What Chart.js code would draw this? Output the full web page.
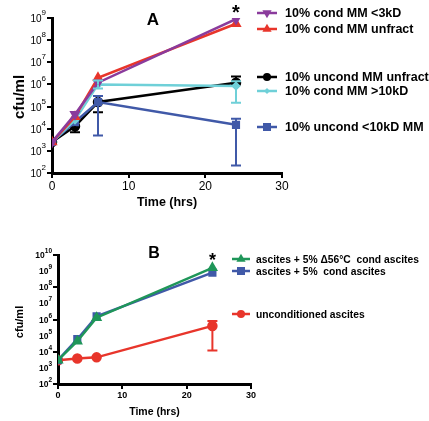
<!DOCTYPE html>
<html>
<head>
<meta charset="utf-8">
<script src="https://cdn.jsdelivr.net/npm/chart.js@4/dist/chart.umd.min.js"></script>
<style>
  html, body { margin: 0; padding: 0; background: #fff; }
  #wrap { position: relative; width: 429px; height: 421px; }
  canvas { position: absolute; left: 0; }
  #chartA { top: 0; }
  #chartB { top: 210px; }
</style>
</head>
<body>
<div id="wrap">
  <canvas id="chartA" width="429" height="210"></canvas>
  <canvas id="chartB" width="429" height="211"></canvas>
</div>
<script>
"use strict";

const FONT = "Arial, 'Liberation Sans', sans-serif";

// time points (hrs)
const hours = [0, 3, 6, 24];

// panel A, cfu/ml
const condLt3kD      = [2.5e3, 4.5e4, 1.2e6, 9.0e8];
const condUnfract    = [2.5e3, 3.5e4, 2.0e6, 5.5e8];
const uncondUnfract  = [2.5e3, 1.3e4, 1.6e5, 1.2e6];
const uncondUnfractLo = [null, 7.0e3, 5.5e4, null];
const uncondUnfractHi = [null, null, null, 2.3e6];
const condGt10kD     = [2.5e3, 2.5e4, 1.0e6, 8.5e5];
const condGt10kDLo   = [null, null, 6.5e5, 1.5e5];
const condGt10kDHi   = [null, null, 1.5e6, 1.4e6];
const uncondLt10kD   = [2.5e3, 2.0e4, 1.6e5, 1.5e4];
const uncondLt10kDLo = [null, null, 5.0e3, 2.2e2];
const uncondLt10kDHi = [null, null, 3.0e5, 2.8e4];

// panel B, cfu/ml
const ascitesHeat     = [3.0e3, 4.5e4, 1.3e6, 1.6e9];
const ascitesCond     = [3.0e3, 6.0e4, 1.6e6, 8.0e8];
const ascitesUncond   = [3.0e3, 3.8e3, 4.5e3, 4.0e5];
const ascitesUncondLo = [null, null, null, 1.2e4];
const ascitesUncondHi = [null, null, null, 8.0e5];

const labelsA = ['10% cond MM <3kD', '10% cond MM unfract', '10% uncond MM unfract',
                 '10% cond MM >10kD', '10% uncond <10kD MM'];
const labelsB = ['ascites + 5% \u039456\u00B0C  cond ascites', 'ascites + 5%  cond ascites',
                 'unconditioned ascites'];

const xTicks = [0, 10, 20, 30];
const decadesA = [2, 3, 4, 5, 6, 7, 8, 9];
const decadesB = [2, 3, 4, 5, 6, 7, 8, 9, 10];

const PURPLE = '#8a3b9c', RED = '#e8352b', BLACK = '#000000', CYAN = '#6fd0d8',
      BLUE = '#4059a8', GREEN = '#1f9659';

function pts(ys) {
    return hours.map((h, i) => ({x: h, y: ys[i]}));
}

function series(label, ys, color, style, extra) {
    return Object.assign({
        label: label,
        data: pts(ys),
        borderColor: color,
        backgroundColor: color,
        pointBackgroundColor: color,
        pointBorderColor: color,
        borderWidth: 2.5,
        pointStyle: style,
        pointRadius: 4,
        tension: 0,
        fill: false
    }, extra || {});
}

function drawMarker(ctx, style, x, y, r, color) {
    ctx.save();
    ctx.fillStyle = color;
    ctx.beginPath();
    if (style === 'circle') {
        ctx.arc(x, y, r, 0, Math.PI * 2);
    } else if (style === 'rect') {
        ctx.rect(x - r, y - r, 2 * r, 2 * r);
    } else if (style === 'triangle') {
        ctx.moveTo(x, y - r * 1.3); ctx.lineTo(x + r * 1.15, y + r * 0.7); ctx.lineTo(x - r * 1.15, y + r * 0.7);
    } else if (style === 'triangleDown') {
        ctx.moveTo(x, y + r * 1.3); ctx.lineTo(x + r * 1.15, y - r * 0.7); ctx.lineTo(x - r * 1.15, y - r * 0.7);
    } else if (style === 'rectRot') {
        ctx.moveTo(x, y - r); ctx.lineTo(x + r, y); ctx.lineTo(x, y + r); ctx.lineTo(x - r, y);
    }
    ctx.closePath();
    ctx.fill();
    ctx.restore();
}

// error bars, superscript log labels, titles, legend, asterisk
const decorPlugin = {
    id: 'decor',
    afterDatasetsDraw(chart) {
        const ctx = chart.ctx;
        const xs = chart.scales.x, ys = chart.scales.y;
        chart.data.datasets.forEach(ds => {
            [ds.errLo, ds.errHi].forEach(arr => {
                if (!arr) return;
                arr.forEach((v, i) => {
                    if (v == null) return;
                    const px = xs.getPixelForValue(hours[i]);
                    const y0 = ys.getPixelForValue(ds.data[i].y);
                    const y1 = ys.getPixelForValue(v);
                    ctx.save();
                    ctx.strokeStyle = ds.borderColor;
                    ctx.lineWidth = 2;
                    ctx.beginPath();
                    ctx.moveTo(px, y0); ctx.lineTo(px, y1);
                    ctx.moveTo(px - 5, y1); ctx.lineTo(px + 5, y1);
                    ctx.stroke();
                    ctx.restore();
                });
            });
        });
    },
    afterDraw(chart) {
        const o = chart.options.plugins.decor;
        const ctx = chart.ctx;
        const xs = chart.scales.x, ys = chart.scales.y;
        const area = chart.chartArea;

        // y tick labels 10^n
        ctx.save();
        ctx.fillStyle = '#000';
        o.decades.forEach(p => {
            const y = ys.getPixelForValue(Math.pow(10, p));
            ctx.font = o.expFont;
            const ew = ctx.measureText(String(p)).width;
            const right = area.left - o.labelGap;
            ctx.textAlign = 'left';
            ctx.textBaseline = 'alphabetic';
            ctx.fillText(String(p), right - ew, y - o.expRaise);
            ctx.font = o.baseFont;
            ctx.textAlign = 'right';
            ctx.fillText('10', right - ew, y + o.baseDrop);
        });

        // axis titles and panel letter
        ctx.textAlign = 'center';
        ctx.textBaseline = 'middle';
        ctx.font = o.xTitleFont;
        ctx.fillText('Time (hrs)', (area.left + area.right) / 2, o.xTitleY);
        ctx.font = o.yTitleFont;
        ctx.save();
        ctx.translate(o.yTitleX, o.yTitleY);
        ctx.rotate(-Math.PI / 2);
        ctx.fillText('cfu/ml', 0, 0);
        ctx.restore();
        ctx.font = o.letterFont;
        ctx.fillText(o.letter, o.letterX, o.letterY);

        // asterisk over the 24 h group
        ctx.font = o.starFont;
        ctx.fillText('*', xs.getPixelForValue(24), o.starY);

        // legend
        ctx.font = o.legendFont;
        ctx.textAlign = 'left';
        o.legend.forEach(it => {
            ctx.strokeStyle = it.color;
            ctx.lineWidth = 2.5;
            ctx.beginPath();
            ctx.moveTo(o.legX1, it.y); ctx.lineTo(o.legX2, it.y);
            ctx.stroke();
            drawMarker(ctx, it.style, (o.legX1 + o.legX2) / 2, it.y, it.r || 4, it.color);
            ctx.fillStyle = '#000';
            ctx.fillText(it.label, o.legTextX, it.y + 1);
        });
        ctx.restore();
    }
};

function makeChart(id, datasets, cfg) {
    return new Chart(document.getElementById(id), {
        type: 'line',
        data: {datasets: datasets},
        plugins: [decorPlugin],
        options: {
            responsive: false,
            animation: false,
            layout: {padding: {left: 0, top: cfg.top, right: cfg.right, bottom: 0}},
            plugins: {legend: {display: false}, tooltip: {enabled: false}, decor: cfg.decor},
            scales: {
                x: {
                    type: 'linear', min: 0, max: 30,
                    afterBuildTicks: s => { s.ticks = xTicks.map(v => ({value: v})); },
                    afterFit: s => { s.height = 37; },
                    grid: {drawOnChartArea: false, drawTicks: true, tickLength: 5, color: '#000', lineWidth: 2},
                    border: {display: true, color: '#000', width: 3},
                    ticks: {color: '#000', padding: 1, font: cfg.xTickFont, maxRotation: 0}
                },
                y: {
                    type: 'logarithmic', min: Math.pow(10, cfg.decades[0]),
                    max: Math.pow(10, cfg.decades[cfg.decades.length - 1]),
                    afterBuildTicks: s => { s.ticks = cfg.decades.map(p => ({value: Math.pow(10, p)})); },
                    afterFit: s => { s.width = cfg.left; },
                    grid: {drawOnChartArea: false, drawTicks: true, tickLength: 5, color: '#000', lineWidth: 2},
                    border: {display: true, color: '#000', width: 3},
                    ticks: {callback: () => '', padding: 0}
                }
            }
        }
    });
}

makeChart('chartA', [
    series(labelsA[0], condLt3kD, PURPLE, 'triangle', {pointRotation: 180, order: 1}),
    series(labelsA[1], condUnfract, RED, 'triangle', {order: 2}),
    series(labelsA[2], uncondUnfract, BLACK, 'circle', {order: 5, errLo: uncondUnfractLo, errHi: uncondUnfractHi}),
    series(labelsA[3], condGt10kD, CYAN, 'rectRot', {pointRadius: 3, order: 3, errLo: condGt10kDLo, errHi: condGt10kDHi}),
    series(labelsA[4], uncondLt10kD, BLUE, 'rect', {order: 4, errLo: uncondLt10kDLo, errHi: uncondLt10kDHi})
], {
    top: 18, right: 147, left: 52, decades: decadesA,
    xTickFont: {family: FONT, size: 12},
    decor: {
        decades: decadesA, labelGap: 6, expRaise: 3, baseDrop: 4,
        baseFont: '10px ' + FONT, expFont: '8px ' + FONT,
        xTitleFont: 'bold 12.5px ' + FONT, xTitleY: 203,
        yTitleFont: 'bold 15px ' + FONT, yTitleX: 20, yTitleY: 97,
        letter: 'A', letterFont: 'bold 17px ' + FONT, letterX: 153, letterY: 20,
        starFont: 'bold 20px ' + FONT, starY: 13,
        legendFont: 'bold 12.5px ' + FONT, legX1: 257, legX2: 277, legTextX: 285,
        legend: [
            {label: labelsA[0], color: PURPLE, style: 'triangleDown', y: 13},
            {label: labelsA[1], color: RED, style: 'triangle', y: 29},
            {label: labelsA[2], color: BLACK, style: 'circle', y: 77},
            {label: labelsA[3], color: CYAN, style: 'rectRot', r: 3, y: 91},
            {label: labelsA[4], color: BLUE, style: 'rect', y: 127}
        ]
    }
});

makeChart('chartB', [
    series(labelsB[0], ascitesHeat, GREEN, 'triangle', {order: 1}),
    series(labelsB[1], ascitesCond, BLUE, 'rect', {order: 2}),
    series(labelsB[2], ascitesUncond, RED, 'circle', {order: 3, errLo: ascitesUncondLo, errHi: ascitesUncondHi})
], {
    top: 45, right: 178, left: 58, decades: decadesB,
    xTickFont: {family: FONT, size: 9, weight: 'bold'},
    decor: {
        decades: decadesB, labelGap: 6, expRaise: 2, baseDrop: 3,
        baseFont: 'bold 8.5px ' + FONT, expFont: 'bold 6.5px ' + FONT,
        xTitleFont: 'bold 10.5px ' + FONT, xTitleY: 202,
        yTitleFont: 'bold 11px ' + FONT, yTitleX: 20, yTitleY: 112,
        letter: 'B', letterFont: 'bold 16px ' + FONT, letterX: 154, letterY: 44,
        starFont: 'bold 18px ' + FONT, starY: 51,
        legendFont: 'bold 10.3px ' + FONT, legX1: 232, legX2: 250, legTextX: 256,
        legend: [
            {label: labelsB[0], color: GREEN, style: 'triangle', y: 49},
            {label: labelsB[1], color: BLUE, style: 'rect', y: 61},
            {label: labelsB[2], color: RED, style: 'circle', y: 104}
        ]
    }
});
</script>
</body>
</html>
